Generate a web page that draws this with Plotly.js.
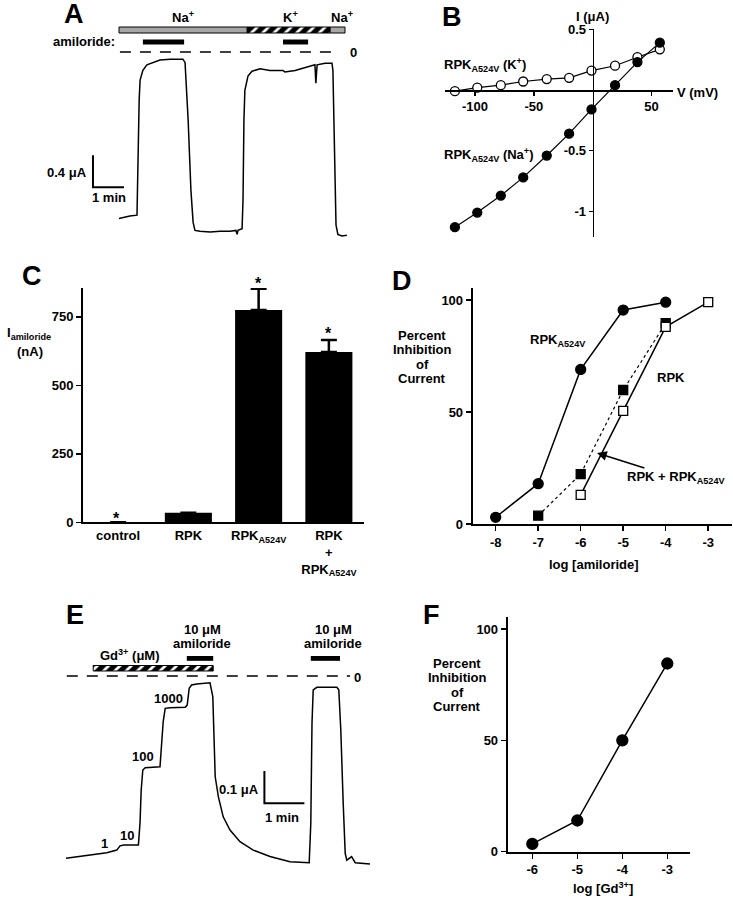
<!DOCTYPE html>
<html>
<head>
<meta charset="utf-8">
<script src="https://cdn.plot.ly/plotly-3.0.1.min.js"></script>
<style>
  body { margin: 0; background: #fff; }
  #fig { width: 733px; height: 900px; }
</style>
</head>
<body>
<div id="fig"></div>
<script>
// ---- panel A: current trace (min, uA) ----
var traceA_t = [0,0.35,0.58,0.61,0.65,0.68,0.77,0.9,1.1,1.32,1.65,2.06,2.13,2.23,2.32,2.39,2.45,2.61,2.94,3.26,3.58,3.77,3.81,3.84,3.97,4.0,4.03,4.06,4.16,4.29,4.55,4.87,5.29,5.35,5.68,6.06,6.32,6.35,6.39,6.65,6.87,6.9,6.94,7.0,7.06,7.19,7.35];
var traceA_i = [-2.08,-2.05,-2.04,-1.23,-0.6,-0.35,-0.23,-0.16,-0.13,-0.1,-0.09,-0.09,-0.13,-0.85,-1.73,-2.13,-2.23,-2.24,-2.25,-2.24,-2.24,-2.23,-2.28,-2.23,-2.21,-1.85,-0.85,-0.48,-0.3,-0.24,-0.21,-0.23,-0.23,-0.25,-0.23,-0.19,-0.16,-0.39,-0.16,-0.14,-0.14,-0.23,-1.23,-2.16,-2.28,-2.3,-2.29];
var naA = [[0, 4.13], [6.81, 7.29]];
var kA = [4.13, 6.81];
var amilA = [[0.77, 2.10], [5.29, 6.10]];

// ---- panel B: I-V ----
var ivV = [-117,-98,-78,-59,-39,-20,-1,19,38,57];
var ivK = [-0.01,0.02,0.04,0.07,0.09,0.10,0.16,0.20,0.27,0.335];
var ivNa = [-1.13,-1.01,-0.87,-0.72,-0.54,-0.36,-0.16,0.04,0.23,0.39];
var ivVTicks = [-100, -50, 50];
var ivITicks = [0.5, -0.5, -1];

// ---- panel C: amiloride-sensitive current ----
var groups = ['control', 'RPK', 'RPK<sub>A524V</sub>', 'RPK<br>+<br>RPK<sub>A524V</sub>'];
var iAmil = [0, 35, 775, 621];
var iAmilErr = [0, 0, 77, 44];

// ---- panel D: amiloride dose response ----
var logAmil = [-8, -7, -6, -5, -4, -3];
var dMutX = [-8,-7,-6,-5,-4];
var dMutY = [3,18,69,95.5,99];
var dRpkX = [-6,-5,-4,-3];
var dRpkY = [13,50.5,88,99];
var dMixX = [-7,-6,-5,-4];
var dMixY = [3.7,22.3,59.8,89.6];

// ---- panel E: Gd3+ trace (min, uA) ----
var traceE_t = [0,0.43,0.73,1.02,1.27,1.35,1.45,1.81,1.85,1.88,1.92,1.98,2.35,2.39,2.43,2.48,2.6,2.98,3.03,3.08,3.14,3.27,3.6,3.67,3.7,3.73,3.81,3.93,4.1,4.35,4.68,5.1,5.6,6.08,6.12,6.15,6.18,6.27,6.77,6.82,6.87,6.9,6.93,6.98,7.02,7.14,7.23,7.6];
var traceE_i = [-0.564,-0.557,-0.551,-0.547,-0.539,-0.526,-0.523,-0.523,-0.456,-0.353,-0.291,-0.284,-0.281,-0.219,-0.141,-0.100,-0.098,-0.097,-0.090,-0.038,-0.028,-0.025,-0.021,-0.064,-0.219,-0.312,-0.374,-0.436,-0.477,-0.513,-0.539,-0.559,-0.575,-0.578,-0.456,-0.146,-0.043,-0.035,-0.035,-0.043,-0.167,-0.296,-0.394,-0.549,-0.570,-0.559,-0.578,-0.582];
var gdE = [0.68, 3.68];
var amilE = [[3.02, 3.68], [6.12, 6.85]];

// ---- panel F: Gd3+ dose response ----
var fX = [-6,-5,-4,-3];
var fY = [3.5,14,50,84.5];

var W = 733, H = 900;
var FONT = 'Liberation Sans, Arial, Helvetica, sans-serif';
function xd(a, b) { return [a / W, b / W]; }
function yd(top, bot) { return [1 - bot / H, 1 - top / H]; }
// plain hyphen for negative tick labels, like the original
function hy(v) { return v.map(function (n) { return String(n); }); }

var line = {color: '#000', width: 1.5};
var dot = function (sym, fill, size) {
  return {symbol: sym, size: size, color: fill, line: {color: '#000', width: 1.3}};
};

var data = [
  // A
  {x: traceA_t, y: traceA_i, xaxis: 'x', yaxis: 'y', mode: 'lines', line: line},
  {type: 'bar', orientation: 'h', y: [0.275], base: [kA[0]], x: [kA[1] - kA[0]], width: [0.075],
   xaxis: 'x', yaxis: 'y',
   marker: {color: '#000', line: {color: '#000', width: 1},
            pattern: {shape: '/', fgcolor: '#fff', bgcolor: '#000', size: 8, solidity: 0.35, fillmode: 'replace'}}},
  // B
  {x: ivV, y: ivK, xaxis: 'x2', yaxis: 'y2', mode: 'lines+markers', line: {color: '#000', width: 1.2},
   marker: dot('circle', '#fff', 9), cliponaxis: false},
  {x: ivV, y: ivNa, xaxis: 'x2', yaxis: 'y2', mode: 'lines+markers', line: {color: '#000', width: 1.2},
   marker: dot('circle', '#000', 9), cliponaxis: false},
  // C
  {type: 'bar', x: [0, 1, 2, 3], y: iAmil, width: 0.67, xaxis: 'x3', yaxis: 'y3',
   marker: {color: '#000'},
   error_y: {type: 'data', symmetric: false, array: iAmilErr, arrayminus: [0, 0, 0, 0],
             color: '#000', thickness: 2.5, width: 8}},
  // D
  {x: dMixX, y: dMixY, xaxis: 'x4', yaxis: 'y4', mode: 'lines+markers',
   line: {color: '#000', width: 1.2, dash: '3px,3px'}, marker: dot('square', '#000', 9), cliponaxis: false},
  {x: dRpkX, y: dRpkY, xaxis: 'x4', yaxis: 'y4', mode: 'lines+markers',
   line: {color: '#000', width: 1.5}, marker: dot('square', '#fff', 9), cliponaxis: false},
  {x: dMutX, y: dMutY, xaxis: 'x4', yaxis: 'y4', mode: 'lines+markers',
   line: {color: '#000', width: 1.5}, marker: dot('circle', '#000', 10), cliponaxis: false},
  // E
  {x: traceE_t, y: traceE_i, xaxis: 'x5', yaxis: 'y5', mode: 'lines', line: line},
  {type: 'bar', orientation: 'h', y: [0.024], base: [gdE[0]], x: [gdE[1] - gdE[0]], width: [0.017],
   xaxis: 'x5', yaxis: 'y5',
   marker: {color: '#000', line: {color: '#000', width: 1},
            pattern: {shape: '/', fgcolor: '#fff', bgcolor: '#000', size: 8, solidity: 0.35, fillmode: 'replace'}}},
  // F
  {x: fX, y: fY, xaxis: 'x6', yaxis: 'y6', mode: 'lines+markers',
   line: {color: '#000', width: 1.5}, marker: dot('circle', '#000', 11), cliponaxis: false}
];

var shapes = [];
naA.forEach(function (s) {
  shapes.push({type: 'rect', xref: 'x', yref: 'y', x0: s[0], x1: s[1], y0: 0.2375, y1: 0.3125,
               fillcolor: '#a6a6a6', line: {color: '#000', width: 1}});
});
amilA.forEach(function (s) {
  shapes.push({type: 'rect', xref: 'x', yref: 'y', x0: s[0], x1: s[1], y0: 0.094, y1: 0.156,
               fillcolor: '#000', line: {width: 0}});
});
shapes.push({type: 'line', xref: 'x', yref: 'y', x0: 0.03, x1: 7.1, y0: 0, y1: 0,
             line: {color: '#000', width: 1.3, dash: '11px,9px'}});
// scale bar A: 0.4 uA, 1 min
shapes.push({type: 'path', xref: 'x', yref: 'y', path: 'M -0.84 -1.29 L -0.84 -1.69 L 0.16 -1.69',
             line: {color: '#000', width: 2}});

amilE.forEach(function (s) {
  shapes.push({type: 'rect', xref: 'x5', yref: 'y5', x0: s[0], x1: s[1], y0: 0.047, y1: 0.062,
               fillcolor: '#000', line: {width: 0}});
});
shapes.push({type: 'line', xref: 'x5', yref: 'y5', x0: 0.02, x1: 7.1, y0: 0, y1: 0,
             line: {color: '#000', width: 1.3, dash: '11px,9px'}});
// scale bar E: 0.1 uA, 1 min
shapes.push({type: 'path', xref: 'x5', yref: 'y5', path: 'M 4.96 -0.294 L 4.96 -0.394 L 5.96 -0.394',
             line: {color: '#000', width: 2}});

var ann = [];
function txt(t, x, y, o) {
  o = o || {};
  var lines = t.split('<br>');
  var gap = o.gap || 14.5;
  lines.forEach(function (l, i) {
    ann.push({text: l, xref: 'paper', yref: 'paper', x: x / W, y: 1 - (y + (i - (lines.length - 1) / 2) * gap) / H,
              xanchor: o.anchor || 'center', yanchor: 'middle', showarrow: false,
              font: {family: FONT, size: o.size || 13, color: '#000', weight: 'bold'}});
  });
}
// A
txt('A', 74, 14, {size: 27});
txt('Na<sup>+</sup>', 183, 17);
txt('K<sup>+</sup>', 290, 17);
txt('Na<sup>+</sup>', 342, 17);
txt('amiloride:', 117, 42, {anchor: 'right'});
txt('0', 353, 53);
txt('0.4 μA', 89, 172, {anchor: 'right'});
txt('1 min', 109, 198);
// B
txt('B', 452, 17, {size: 27});
txt('I (μA)', 592, 16);
txt('V (mV)', 697, 92);
txt('RPK<sub>A524V</sub> (K<sup>+</sup>)', 442, 65, {anchor: 'left'});
txt('RPK<sub>A524V</sub> (Na<sup>+</sup>)', 442, 155, {anchor: 'left'});
// C
txt('C', 32, 276, {size: 27});
txt('I<sub>amiloride</sub>', 29, 333);
txt('(nA)', 30, 351);
txt('*', 117, 518, {size: 16});
txt('*', 258, 283, {size: 16});
txt('*', 328, 333, {size: 16});
// D
txt('D', 402, 281, {size: 27});
txt('Percent<br>Inhibition<br>of<br>Current', 422, 357);
txt('RPK<sub>A524V</sub>', 528, 340, {anchor: 'left'});
txt('RPK', 655, 377, {anchor: 'left'});
txt('log [amiloride]', 594, 564);
ann.push({text: 'RPK + RPK<sub>A524V</sub>', xref: 'paper', yref: 'paper', x: 597 / W, y: 1 - 453 / H,
          ax: 79, ay: 25, showarrow: true, arrowhead: 2, arrowsize: 1.3, arrowwidth: 1.5, arrowcolor: '#000',
          font: {family: FONT, size: 13, color: '#000', weight: 'bold'}});
// E
txt('E', 75, 615, {size: 27});
txt('10 μM<br>amiloride', 202, 636, {gap: 14});
txt('10 μM<br>amiloride', 333, 636, {gap: 14});
txt('Gd<sup>3+</sup> (μM)', 130, 655);
txt('0', 357, 677);
txt('1', 104, 843);
txt('10', 127, 835);
txt('100', 143, 756);
txt('1000', 168, 698);
txt('0.1 μA', 261, 789, {anchor: 'right'});
txt('1 min', 282, 817);
// F
txt('F', 432, 615, {size: 27});
txt('Percent<br>Inhibition<br>of<br>Current', 457, 685);
txt('log [Gd<sup>3+</sup>]', 603, 888);

var tickfont = {family: FONT, size: 13, color: '#000', weight: 'bold'};
function ax(o) {
  var base = {showgrid: false, zeroline: false, showline: true, linecolor: '#000', linewidth: 2,
              ticks: 'outside', ticklen: 5, tickwidth: 1.5, tickcolor: '#000', tickfont: tickfont,
              fixedrange: true};
  for (var k in o) base[k] = o[k];
  return base;
}
var hidden = {visible: false, fixedrange: true};

var layout = {
  width: W, height: H,
  margin: {l: 0, r: 0, t: 0, b: 0},
  paper_bgcolor: '#fff', plot_bgcolor: 'rgba(0,0,0,0)',
  showlegend: false, hovermode: false, barmode: 'overlay',
  font: {family: FONT, size: 13, color: '#000', weight: 'bold'},
  xaxis: Object.assign({domain: xd(50, 360), range: [-2.226, 7.774], anchor: 'y'}, hidden),
  yaxis: Object.assign({domain: yd(8, 240), range: [-2.35, 0.55], anchor: 'x'}, hidden),
  xaxis2: ax({domain: xd(445, 673), range: [-125.4, 68.2], anchor: 'free', position: 1 - 90 / H,
              tickvals: ivVTicks, ticktext: hy(ivVTicks), ticklen: 4, linewidth: 1.5}),
  yaxis2: ax({domain: yd(29.3, 237), range: [-1.211, 0.5], anchor: 'free', position: 592.7 / W,
              tickvals: ivITicks, ticktext: hy(ivITicks), ticklen: 4, linewidth: 1.5}),
  xaxis3: ax({domain: xd(83, 364), range: [-0.5, 3.5], anchor: 'y3', ticks: '',
              tickvals: [0, 1, 2, 3], ticktext: groups}),
  yaxis3: ax({domain: yd(288, 522.3), range: [0, 855], anchor: 'x3', tickvals: [0, 250, 500, 750]}),
  xaxis4: ax({domain: xd(472.7, 731.7), range: [-8.541, -2.447], anchor: 'y4',
              tickvals: logAmil, ticktext: hy(logAmil)}),
  yaxis4: ax({domain: yd(288.3, 524), range: [0, 105.2], anchor: 'x4', tickvals: [0, 50, 100]}),
  xaxis5: Object.assign({domain: xd(50, 380), range: [-0.4, 7.85], anchor: 'y5'}, hidden),
  yaxis5: Object.assign({domain: yd(600, 880), range: [-0.6316, 0.2353], anchor: 'x5'}, hidden),
  xaxis6: ax({domain: xd(507.7, 690), range: [-6.547, -2.496], anchor: 'y6',
              tickvals: fX, ticktext: hy(fX)}),
  yaxis6: ax({domain: yd(616.7, 851.7), range: [0, 105.5], anchor: 'x6', tickvals: [0, 50, 100]}),
  shapes: shapes,
  annotations: ann
};

data.forEach(function (d) { d.hoverinfo = 'skip'; d.showlegend = false; });

Plotly.newPlot('fig', data, layout, {staticPlot: true, displayModeBar: false});
</script>
</body>
</html>
